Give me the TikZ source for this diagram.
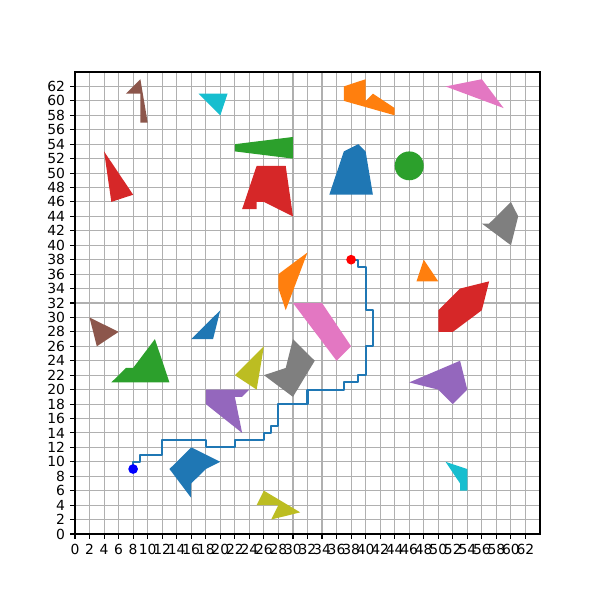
\documentclass[tikz,border=0pt]{standalone}
\usepackage{fontspec}
\setmainfont{DejaVu Sans}
\usepackage{tikz}
\definecolor{tab-blue}{HTML}{1F77B4}
\definecolor{tab-orange}{HTML}{FF7F0E}
\definecolor{tab-green}{HTML}{2CA02C}
\definecolor{tab-red}{HTML}{D62728}
\definecolor{tab-purple}{HTML}{9467BD}
\definecolor{tab-brown}{HTML}{8C564B}
\definecolor{tab-pink}{HTML}{E377C2}
\definecolor{tab-gray}{HTML}{7F7F7F}
\definecolor{tab-olive}{HTML}{BCBD22}
\definecolor{tab-cyan}{HTML}{17BECF}
\definecolor{grid-gray}{HTML}{B0B0B0}

\begin{document}
\begin{tikzpicture}[x=5.23125pt, y=5.1975pt,
    gridline/.style={grid-gray, line width=0.8pt},
    ticklabel/.style={inner sep=0pt, font=\fontsize{10}{12}\selectfont}]
    \useasboundingbox (-54pt,-47.52pt) rectangle (378pt,384.48pt);

    \foreach \k in {0,2,...,62} {
        \draw[gridline] (\k,0) -- (\k,64);
        \draw[gridline] (0,\k) -- (64,\k);
    }

    % obstacles
    \fill[tab-brown] (7,61) -- (9,63) -- (10,57) -- (9,57) -- (9,61) -- cycle;
    \fill[tab-cyan] (17,61) -- (21,61) -- (20,58) -- cycle;
    \fill[tab-green] (22,54) -- (22,53) -- (30,52) -- (30,55) -- cycle;
    \fill[tab-red] (4,53) -- (8,47) -- (5,46) -- cycle;
    \fill[tab-red] (23,45) -- (25,51) -- (29,51) -- (30,44) -- (26,46) -- (25,46) -- (25,45) -- cycle;
    \fill[tab-orange] (37,62) -- (40,63) -- (40,60) -- (41,61) -- (44,59) -- (44,58) -- (37,60) -- cycle;
    \fill[tab-pink] (51,62) -- (56,63) -- (59,59) -- cycle;
    \fill[tab-blue] (35,47) -- (37,53) -- (39,54) -- (40,53) -- (41,47) -- cycle;
    \fill[tab-green] (46,51) circle (2);
    \fill[tab-gray] (56,43) -- (57,43) -- (60,46) -- (61,44) -- (60,40) -- cycle;
    \fill[tab-orange] (28,36) -- (32,39) -- (29,31) -- (28,34) -- cycle;
    \fill[tab-orange] (47,35) -- (48,38) -- (50,35) -- cycle;
    \fill[tab-red] (50,31) -- (53,34) -- (57,35) -- (56,31) -- (52,28) -- (50,28) -- cycle;
    \fill[tab-pink] (30,32) -- (34,32) -- (38,26) -- (36,24) -- cycle;
    \fill[tab-brown] (2,30) -- (6,28) -- (3,26) -- cycle;
    \fill[tab-blue] (16,27) -- (20,31) -- (19,27) -- cycle;
    \fill[tab-green] (5,21) -- (7,23) -- (8,23) -- (11,27) -- (13,21) -- cycle;
    \fill[tab-olive] (22,22) -- (26,26) -- (25,20) -- cycle;
    \fill[tab-gray] (26,22) -- (29,23) -- (30,27) -- (33,24) -- (30,19) -- cycle;
    \fill[tab-purple] (18,20) -- (24,20) -- (23,19) -- (22,19) -- (23,14) -- (18,18) -- cycle;
    \fill[tab-purple] (46,21) -- (53,24) -- (54,20) -- (52,18) -- (50,20) -- cycle;
    \fill[tab-blue] (13,9) -- (16,12) -- (20,10) -- (18,9) -- (16,7) -- (16,5) -- cycle;
    \fill[tab-olive] (25,4) -- (26,6) -- (31,3) -- (27,2) -- (28,4) -- cycle;
    \fill[tab-cyan] (51,10) -- (54,9) -- (54,6) -- (53,6) -- (53,7) -- cycle;

    % route
    \draw[tab-blue, line width=1.5pt, line join=round]
        (38,38) -- (39,38) -- (39,37) -- (40,37) -- (40,31) -- (41,31) -- (41,26)
        -- (40,26) -- (40,22) -- (39,22) -- (39,21) -- (37,21) -- (37,20) -- (32,20)
        -- (32,18) -- (28,18) -- (28,15) -- (27,15) -- (27,14) -- (26,14) -- (26,13)
        -- (22,13) -- (22,12) -- (18,12) -- (18,13) -- (12,13) -- (12,11) -- (9,11)
        -- (9,10) -- (8,10) -- (8,9);
    \fill[red] (38,38) circle (3.5pt);
    \fill[blue] (8,9) circle (3.5pt);

    % axes
    \draw[line width=0.8pt] (0,0) rectangle (64,64);
    \foreach \k in {0,2,...,62} {
        \draw[line width=0.8pt] (\k,0) -- ++(0,-3.5pt);
        \draw[line width=0.8pt] (0,\k) -- ++(-3.5pt,0);
        \node[ticklabel, anchor=north, yshift=-7pt] (xt\k) at (\k,0) {\k};
        \node[ticklabel, anchor=east, xshift=-7pt] (yt\k) at (0,\k) {\k};
    }
\end{tikzpicture}
\end{document}
